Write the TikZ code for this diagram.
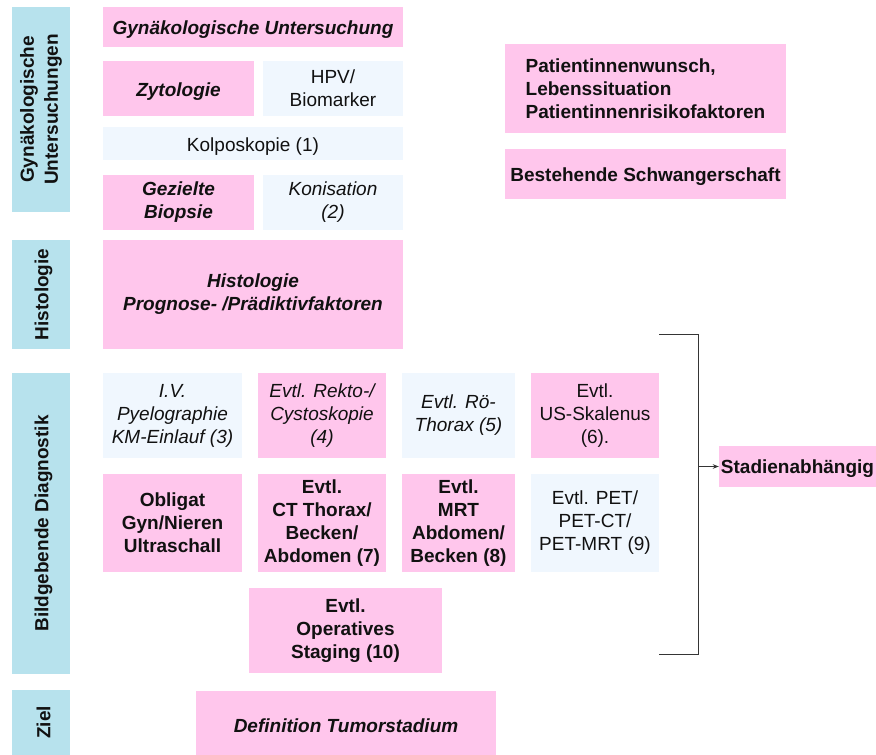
\documentclass[tikz,border=0pt]{standalone}
\usepackage{fontspec}
\setmainfont{Liberation Sans}
\usetikzlibrary{arrows.meta}
\definecolor{rosa}{RGB}{255,198,236}
\definecolor{hellblau}{RGB}{240,247,254}
\definecolor{seitenblau}{RGB}{183,226,237}
\definecolor{schrift}{RGB}{17,17,17}
\tikzset{
  every node/.style={inner sep=0pt,align=center,text=schrift,font=\fontsize{19}{23}\selectfont,
    execute at begin node={\rule{0pt}{19pt}}},
  rosabox/.style={fill=rosa},
  blaubox/.style={fill=hellblau},
  seite/.style={fill=seitenblau,rotate=90,minimum height=58pt,font=\fontsize{19}{24}\selectfont\bfseries},
  groesse/.style 2 args={minimum width=#1pt,minimum height=#2pt},
  fett/.style={font=\fontsize{19}{23}\selectfont\bfseries},
  kursiv/.style={font=\fontsize{19}{23}\selectfont\itshape},
  fettkursiv/.style={font=\fontsize{19}{23}\selectfont\bfseries\itshape}
}
\begin{document}
\begin{tikzpicture}[x=1pt,y=-1pt]
    \useasboundingbox (0,0) rectangle (876,755);
    % Seitenleisten
    \node[seite,minimum width=205pt] (s1) at (41,109.5) {Gynäkologische\\Untersuchungen};
    \node[seite,minimum width=109pt] (s2) at (41,294.5) {Histologie};
    \node[seite,minimum width=301pt] (s3) at (41,523.5) {Bildgebende Diagnostik};
    \node[seite,minimum width=65pt] (s4) at (41,722.5) {Ziel};
    % Untersuchungen
    \node[rosabox,fettkursiv,groesse={300}{40}] (gyn) at (253,27) {Gynäkologische Untersuchung};
    \node[rosabox,fettkursiv,groesse={151}{55}] (zyto) at (178.5,88.5) {Zytologie};
    \node[blaubox,groesse={140}{55}] (hpv) at (333,88.5) {HPV/\\Biomarker};
    \node[blaubox,groesse={300}{33}] (kolpo) at (253,143.5) {Kolposkopie (1)};
    \node[rosabox,fettkursiv,groesse={151}{55}] (biopsie) at (178.5,202.5) {Gezielte\\Biopsie};
    \node[blaubox,kursiv,groesse={140}{55}] (konis) at (333,202.5) {Konisation\\(2)};
    \node[rosabox,fettkursiv,groesse={300}{109}] (histo) at (253,294.5) {Histologie\\Prognose- /Prädiktivfaktoren};
    % rechts oben
    \node[rosabox,fett,align=left,groesse={281}{89}] (wunsch) at (645.5,88.5) {Patientinnenwunsch,\\Lebenssituation\\Patientinnenrisikofaktoren};
    \node[rosabox,fett,groesse={281}{50}] (schwanger) at (645.5,174) {Bestehende Schwangerschaft};
    % Bildgebung
    \node[blaubox,kursiv,groesse={139}{85}] (iv) at (172.5,415.5) {I.V.\\Pyelographie\\KM-Einlauf (3)};
    \node[rosabox,kursiv,groesse={128}{85}] (rekto) at (322,415.5) {Evtl. Rekto-/\\Cystoskopie\\(4)};
    \node[blaubox,kursiv,groesse={113}{85}] (roe) at (458.5,415.5) {Evtl. Rö-\\Thorax (5)};
    \node[rosabox,groesse={128}{85}] (us) at (595,415.5) {Evtl.\\US-Skalenus\\(6).};
    \node[rosabox,fett,groesse={139}{98}] (obligat) at (172.5,523) {Obligat\\Gyn/Nieren\\Ultraschall};
    \node[rosabox,fett,groesse={128}{98}] (ct) at (322,523) {Evtl.\\CT Thorax/\\Becken/\\Abdomen (7)};
    \node[rosabox,fett,groesse={113}{98}] (mrt) at (458.5,523) {Evtl.\\MRT\\Abdomen/\\Becken (8)};
    \node[blaubox,groesse={128}{98}] (pet) at (595,523) {Evtl. PET/\\PET-CT/\\PET-MRT (9)};
    \node[rosabox,fett,groesse={193}{85}] (opstaging) at (345.5,630.5) {Evtl.\\Operatives\\Staging (10)};
    % Ziel
    \node[rosabox,fettkursiv,groesse={300}{64}] (ziel) at (346,723) {Definition Tumorstadium};
    \node[rosabox,fett,groesse={157}{41}] (stadien) at (797.5,466.5) {Stadienabhängig};
    % Klammer
    \coordinate (kloben) at (659,334);
    \coordinate (klunten) at (659,654);
    \coordinate (klmitte) at (698,466.5);
    \draw[line width=0.9pt,draw=schrift!85] (kloben) -- ++(39,0) |- (klunten);
    \draw[line width=0.9pt,draw=schrift!85,-{Stealth[length=6pt,width=4.5pt]}] (klmitte) -- (stadien.west);
\end{tikzpicture}
\end{document}
